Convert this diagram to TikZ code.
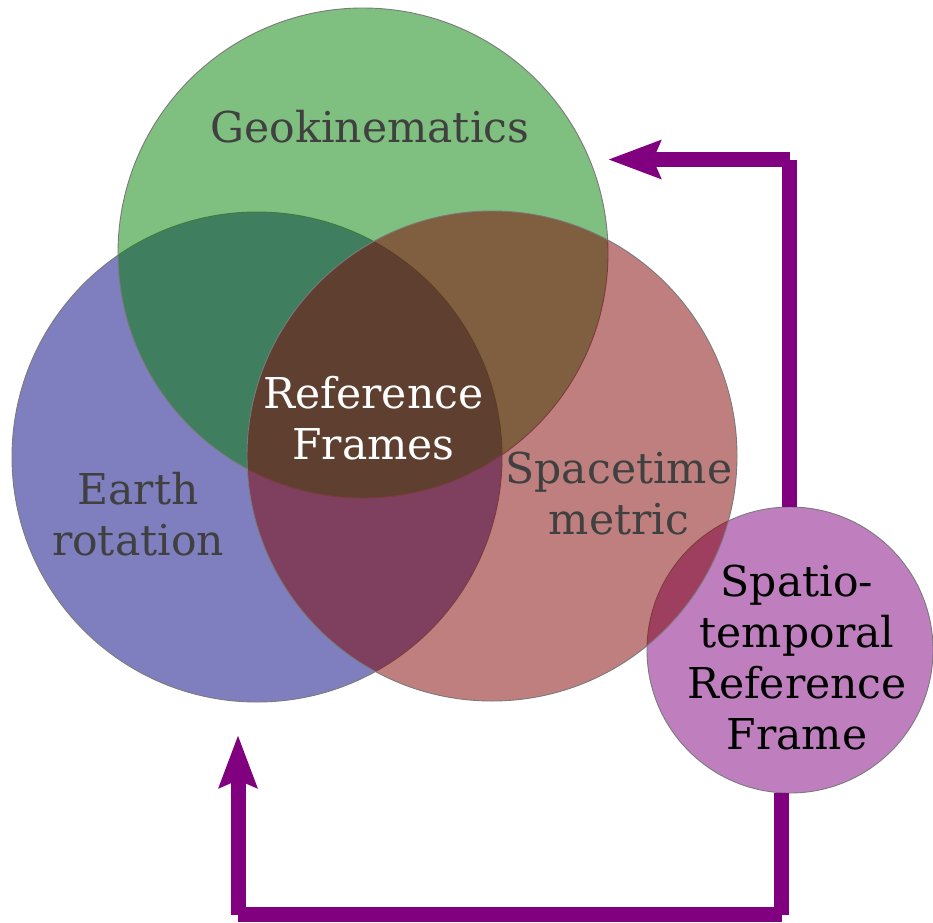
\documentclass[tikz,border=0pt]{standalone}
\usepackage{fontspec}
\setmainfont{DejaVu Serif}
\usetikzlibrary{arrows.meta}

\definecolor{cgreen}{HTML}{008000}
\definecolor{cnavy}{HTML}{000080}
\definecolor{cmaroon}{HTML}{800000}
\definecolor{cpurple}{HTML}{800080}
\definecolor{labelgray}{HTML}{404040}
\definecolor{rimgray}{HTML}{7A7A7A}

\tikzset{
  disc/.style={circle, inner sep=0pt, outer sep=0pt, minimum size=490pt,
    draw=rimgray, line width=0.9pt, fill opacity=0.5},
  smalldisc/.style={disc, minimum size=286pt},
  lbl/.style={inner sep=0pt, align=center, text=labelgray,
    font=\fontsize{42.5}{51}\selectfont},
  flow/.style={draw=cpurple, line width=15pt, line cap=butt},
  flowhead/.style={flow, -{Stealth[length=52pt, width=37pt, inset=7pt]}}
}

\begin{document}
\begin{tikzpicture}[x=1pt, y=-1pt]
  \useasboundingbox (0,0) rectangle (933,922);

  % the three overlapping fields and the combined frame
  \node[disc, fill=cnavy]    (earth) at (257,457) {};
  \node[disc, fill=cgreen]   (geo)   at (363,253) {};
  \node[smalldisc, fill=cpurple] (strf) at (790,650) {};
  \node[disc, fill=cmaroon]  (space) at (492,456) {};

  % labels
  \node[lbl, anchor=base] (geolbl) at (370,142) {Geokinematics};
  \node[lbl] (earthlbl) at (138,514) {Earth\\rotation};
  \node[lbl] (spacelbl) at (619,494) {Spacetime\\metric};
  \node[lbl, text=white] (reflbl) at (373.5,418) {Reference\\Frames};
  \node[lbl, text=black] (strflbl) at (797,658) {Spatio-\\temporal\\Reference\\Frame};

  % feedback paths
  \coordinate (c1)   at (789.5,159.5);
  \coordinate (tip1) at (608,159.5);
  \coordinate (c2)   at (781.5,914.5);
  \coordinate (c3)   at (238,914.5);
  \coordinate (tip2) at (238,735);

  \draw[flow] (strf.north -| c1) -- (c1);
  \draw[flowhead] (c1) -- (tip1);

  \draw[flow] (strf.south -| c2) -- (c2);
  \draw[flow] (c2) -- (c3);
  \draw[flowhead] (c3) -- (tip2);
\end{tikzpicture}
\end{document}
